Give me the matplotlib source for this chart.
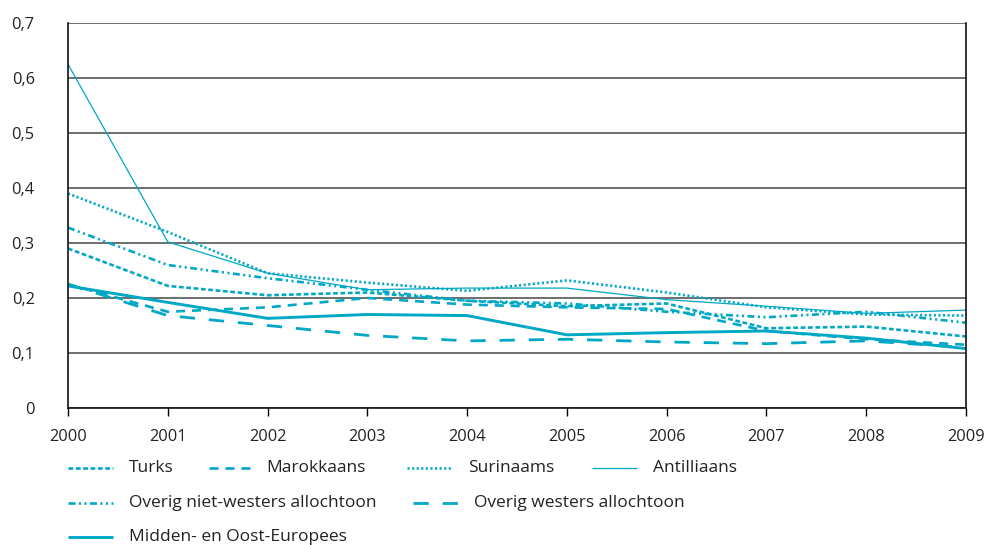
import matplotlib
matplotlib.use("Agg")
import matplotlib.pyplot as plt
from matplotlib.lines import Line2D

plt.rcParams["font.family"] = ["Open Sans", "DejaVu Sans"]
plt.rcParams["lines.scale_dashes"] = False

# data
years = [2000, 2001, 2002, 2003, 2004, 2005, 2006, 2007, 2008, 2009]
turks = [0.290, 0.222, 0.205, 0.210, 0.195, 0.185, 0.190, 0.145, 0.148, 0.130]
marokkaans = [0.225, 0.175, 0.183, 0.200, 0.188, 0.183, 0.180, 0.140, 0.125, 0.115]
surinaams = [0.390, 0.320, 0.245, 0.228, 0.213, 0.232, 0.210, 0.183, 0.170, 0.168]
antilliaans = [0.625, 0.302, 0.245, 0.215, 0.218, 0.218, 0.197, 0.185, 0.172, 0.178]
overig_nw = [0.328, 0.260, 0.236, 0.215, 0.195, 0.190, 0.175, 0.165, 0.175, 0.155]
overig_w = [0.225, 0.168, 0.150, 0.132, 0.122, 0.125, 0.120, 0.117, 0.122, 0.110]
moe = [0.222, 0.192, 0.163, 0.170, 0.168, 0.133, 0.137, 0.140, 0.127, 0.108]

y_ticks = [0, 0.1, 0.2, 0.3, 0.4, 0.5, 0.6, 0.7]
y_labels = ["0", "0,1", "0,2", "0,3", "0,4", "0,5", "0,6", "0,7"]

KLEUR = "#00a8c6"

series = [
    ("Turks", turks, dict(lw=1.9, dashes=(3.4, 1.9))),
    ("Marokkaans", marokkaans, dict(lw=1.9, dashes=(6.5, 5))),
    ("Surinaams", surinaams, dict(lw=1.9, dashes=(1.5, 1.8))),
    ("Antilliaans", antilliaans, dict(lw=0.9)),
    ("Overig niet-westers allochtoon", overig_nw, dict(lw=1.9, dashes=(5, 2.5, 1.5, 2.5, 1.5, 2.5))),
    ("Overig westers allochtoon", overig_w, dict(lw=2.0, dashes=(11, 10))),
    ("Midden- en Oost-Europees", moe, dict(lw=2.1)),
]

fig = plt.figure(figsize=(9.87, 5.45), dpi=100)
ax = fig.add_axes([0.0689, 0.2514, 0.9098, 0.7064])

for naam, waarden, stijl in series:
    ax.plot(years, waarden, color=KLEUR, solid_capstyle="butt", dash_capstyle="butt", **stijl)

ax.set_xlim(2000, 2009)
ax.set_ylim(0, 0.7)
ax.set_xticks(years)
ax.set_xticklabels([str(j) for j in years], fontsize=11.8, color="#222222")
ax.set_yticks(y_ticks)
ax.set_yticklabels(y_labels, fontsize=11.8, color="#222222")
ax.tick_params(axis="y", length=0, pad=24)
ax.tick_params(axis="x", length=6, width=1, direction="out", pad=9)

ax.yaxis.grid(True, color="#6e6e6e", linewidth=1.4)
ax.set_axisbelow(True)
ax.spines["top"].set_visible(False)
for kant in ["left", "right", "bottom"]:
    ax.spines[kant].set_color("#111111")
    ax.spines[kant].set_linewidth(1.2)

# legenda onder de grafiek, handmatig geplaatst
W, H = 987, 545
posities = [
    (68, 468), (209, 468), (407, 468), (592, 468),
    (68, 503), (413, 503),
    (68, 537),
]
for (naam, waarden, stijl), (x0, yy) in zip(series, posities):
    lengte = 41 if naam == "Marokkaans" else 45
    yf = 1 - yy / H
    fig.add_artist(Line2D([x0 / W, (x0 + lengte) / W], [yf, yf], color=KLEUR,
                          solid_capstyle="butt", dash_capstyle="butt", **stijl))
    fig.text((x0 + lengte + 16) / W, yf, naam, fontsize=12.5, color="#222222",
             va="center", ha="left")

fig.savefig("out.png", dpi=100)
